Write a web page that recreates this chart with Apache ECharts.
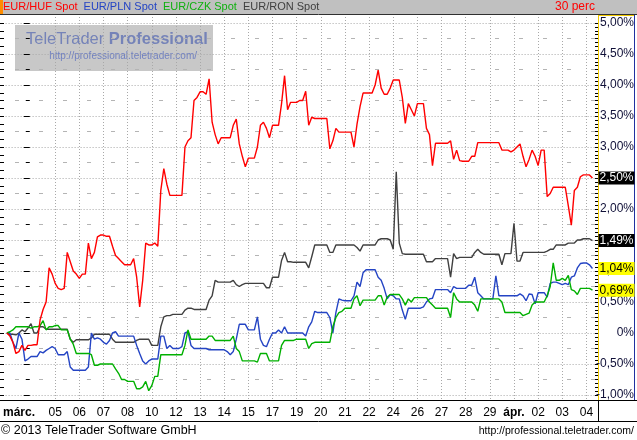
<!DOCTYPE html>
<html><head><meta charset="utf-8">
<script src="https://cdn.jsdelivr.net/npm/echarts@6/dist/echarts.min.js"></script>
<style>html,body{margin:0;padding:0;background:#fff}#c{width:637px;height:440px}</style>
</head><body><div id="c"></div>
<script>
// ---- data -------------------------------------------------------------
// x-axis day labels (trading days)
const dayLabels = ['márc.','05','06','07','08','10','12','13','14','15','17','19','20','21','22','24','26','27','28','29','ápr.','02','03','04'];
// series in % change, sampled every 1/8 trading day, starting one day before 'márc.'
const START = -1, STEP = 0.125;
const hufVals = [
0,-0.05, -0.15,-0.33, -0.3,-0.2, -0.28,-0.2, -0.2,-0.19, -0.19,0.21, 0.38,0.5, 1.05,0.95, 0.8,0.72, 0.7,0.72,
1.3,1.15, 1.0,0.95, 0.88,0.95, 0.95,1.45, 1.2,1.3, 1.55,1.58, 1.58,1.56, 1.56,1.4, 1.25,1.2, 1.15,1.1,
1.1,1.1, 1.2,0.9, 0.42,0.85, 1.45,1.42, 1.42,1.45, 1.4,2.3, 2.65,2.4, 2.22,2.22, 2.22,2.22, 2.22,3.0,
3.1,3.15, 3.75,3.8, 3.89,3.89, 3.85,4.1, 3.4,3.2, 3.05,3.15, 3.15,3.15, 3.15,3.35, 3.45,3.05, 2.85,2.68,
2.82,2.82, 2.82,3.0, 3.35,3.4, 3.3,3.15, 3.35,3.35, 3.35,3.7, 4.15,3.6, 3.72,3.72, 3.72,3.75, 3.75,3.9,
3.35,3.48, 3.46,3.46, 3.46,3.46, 3.46,2.97, 3.1,3.3, 3.24,3.24, 3.24,3.24, 3.24,3.0, 3.37,3.65, 3.87,3.87,
3.87,3.87, 4.0,4.24, 3.95,3.85, 3.85,3.95, 4.08,4.08, 4.08,3.8, 3.38,3.7, 3.6,3.5, 3.7,3.7, 3.7,3.3,
3.2,2.7, 3.06,3.06, 3.06,3.06, 3.06,3.1, 2.8,2.95, 2.78,2.77, 2.77,2.77, 2.85,2.85, 3.07,3.07, 3.07,3.07,
3.07,3.07, 3.07,3.07, 2.95,2.95, 2.95,2.92, 2.95,3.0, 3.05,2.85, 2.68,2.8, 2.95,2.85, 2.7,2.95, 2.95,2.2,
2.25,2.35, 2.35,2.35, 2.35,2.35, 2.05,1.74, 2.3,2.35, 2.52,2.55, 2.55,2.55, 2.50];
const plnVals = [
0,0, -0.15,-0.25, 0,-0.1, -0.45,-0.42, -0.38,-0.38, -0.38,-0.3, -0.32,-0.28, -0.25,-0.22, -0.25,-0.35, -0.35,-0.35,
-0.3,-0.55, -0.6,-0.6, -0.6,-0.6, -0.6,-0.55, 0,-0.1, -0.08,-0.1, -0.15,-0.18, -0.12,0, 0.02,-0.05, -0.05,-0.05,
-0.05,-0.05, -0.05,-0.2, -0.33,-0.45, -0.5,-0.45, -0.42,-0.42, -0.42,-0.05, -0.05,-0.25, -0.2,-0.25, -0.25,-0.25, -0.22,0,
0.02,-0.2, -0.25,-0.25, -0.25,-0.25, -0.25,-0.27, -0.27,-0.27, -0.27,-0.27, -0.27,-0.3, -0.35,-0.3, -0.1,0.14, 0.14,0.14,
0.05,0.05, 0.05,0.26, -0.1,-0.2, -0.22,-0.1, 0,0, 0.05,0, 0.1,0, 0,0, 0,0, 0,-0.05,
0.1,0.18, 0.35,0.33, 0.33,0.33, 0.33,0.25, 0,0.33, 0.55,0.53, 0.52,0.52, 0.52,0.6, 0.82,0.75, 0.97,1.02,
1.02,1.02, 1.02,0.9, 0.85,0.72, 0.55,0.62, 0.6,0.55, 0.55,0.37, 0.22,0.4, 0.4,0.4, 0.4,0.4, 0.42,0.5,
0.55,0.56, 0.7,0.7, 0.7,0.7, 0.7,0.65, 0.75,0.72, 0.72,0.72, 0.72,0.77, 0.77,0.9, 0.65,0.6, 0.55,0.55,
0.55,0.55, 0.92,0.6, 0.6,0.6, 0.6,0.6, 0.6,0.6, 0.63,0.6, 0.52,0.63, 0.62,0.47, 0.65,0.65, 0.65,0.58,
0.8,0.82, 0.82,0.8, 0.78,0.8, 0.78,0.9, 0.92,1.05, 1.12,1.13, 1.13,1.1, 1.04];
const czkVals = [
0,0.02, 0.05,0.1, 0.1,0.1, 0.1,0.1, 0.08,0.1, 0.1,0.12, 0.2,0.05, 0.1,0.1, 0.12,0.12, 0.05,0.05,
0.05,-0.1, -0.18,-0.33, -0.33,-0.33, -0.33,-0.33, -0.35,-0.52, -0.52,-0.5, -0.5,-0.5, -0.5,-0.5, -0.58,-0.65, -0.75,-0.75,
-0.78,-0.78, -0.78,-0.9, -0.9,-0.87, -0.78,-0.93, -0.85,-0.7, -0.7,-0.35, -0.35,-0.35, -0.35,-0.35, -0.35,-0.35, -0.35,-0.2,
0.05,-0.1, -0.1,-0.1, -0.1,-0.1, -0.1,-0.05, -0.05,-0.12, -0.12,-0.12, -0.12,-0.12, -0.12,-0.05, -0.25,-0.3, -0.45,-0.45,
-0.45,-0.45, -0.45,-0.47, -0.33,-0.33, -0.33,-0.45, -0.45,-0.45, -0.45,-0.2, -0.12,-0.12, -0.12,-0.12, -0.1,-0.1, -0.1,-0.1,
-0.25,-0.17, -0.15,-0.15, -0.15,-0.15, -0.15,-0.15, 0.1,0.25, 0.33,0.35, 0.4,0.4, 0.4,0.55, 0.6,0.44, 0.53,0.53,
0.53,0.53, 0.53,0.6, 0.6,0.45, 0.58,0.62, 0.62,0.62, 0.62,0.55, 0.45,0.55, 0.5,0.57, 0.57,0.57, 0.57,0.57,
0.5,0.45, 0.4,0.4, 0.4,0.4, 0.4,0.25, 0.65,0.55, 0.5,0.5, 0.5,0.5, 0.5,0.45, 0.35,0.55, 0.55,0.55,
0.55,0.55, 0.55,0.55, 0.5,0.33, 0.33,0.33, 0.33,0.33, 0.33,0.28, 0.3,0.32, 0.45,0.5, 0.5,0.5, 0.5,0.6,
0.75,1.13, 0.85,0.85, 0.88,0.85, 0.93,0.7, 0.68,0.62, 0.72,0.72, 0.72,0.72, 0.69];
const ronVals = [
0,-0.02, -0.02,-0.03, 0,0.05, 0.02,0.08, 0.15,0, 0,0.1, 0.1,0.06, 0.06,0.06, 0.06,0.06, 0.06,0.06,
0.06,-0.1, -0.15,-0.11, -0.11,-0.11, -0.11,-0.11, -0.08,-0.02, -0.02,-0.02, -0.02,-0.02, -0.02,-0.1, -0.15,-0.15, -0.15,-0.15,
-0.15,-0.15, -0.15,-0.12, -0.1,-0.1, -0.1,-0.1, -0.2,-0.2, -0.2,0.1, 0.26,0.28, 0.28,0.3, 0.3,0.3, 0.3,0.37,
0.4,0.4, 0.38,0.38, 0.38,0.38, 0.38,0.53, 0.6,0.85, 0.82,0.82, 0.82,0.82, 0.82,0.85, 0.78,0.75, 0.78,0.8,
0.8,0.8, 0.8,0.8, 0.8,0.8, 0.73,0.73, 0.9,0.9, 0.9,1.17, 1.3,1.15, 1.15,1.14, 1.14,1.14, 1.14,1.14,
1.05,1.23, 1.42,1.42, 1.42,1.42, 1.42,1.3, 1.3,1.42, 1.42,1.42, 1.42,1.42, 1.42,1.42, 1.38,1.32, 1.42,1.42,
1.42,1.42, 1.42,1.5, 1.52,1.52, 1.52,1.5, 1.35,2.6, 1.45,1.28, 1.27,1.27, 1.27,1.27, 1.27,1.27, 1.27,1.15,
1.15,1.15, 1.2,1.2, 1.2,1.2, 1.2,0.9, 1.28,1.2, 1.22,1.22, 1.22,1.22, 1.22,1.3, 1.35,1.3, 1.27,1.27,
1.27,1.27, 1.27,1.27, 1.1,1.28, 1.28,1.28, 1.77,1.16, 1.16,1.3, 1.3,1.3, 1.3,1.3, 1.3,1.3, 1.3,1.32,
1.35,1.35, 1.42,1.42, 1.42,1.42, 1.45,1.45, 1.45,1.5, 1.5,1.52, 1.52,1.52, 1.49];
const seriesNames = ['EUR/HUF Spot','EUR/PLN Spot','EUR/CZK Spot','EUR/RON Spot'];

// ---- chart ------------------------------------------------------------
const FONT = '"Liberation Sans", Arial, sans-serif';
const pct = v => (Math.abs(v) < 1e-9 ? '0' : v.toFixed(2).replace('.', ',')) + '%';
const toPts = vals => vals.map((v, i) => [START + i * STEP, v]);
function lastMark(vals, bg, fg) {
  const i = vals.length - 1;
  return {
    silent: true, symbol: 'rect', symbolSize: 0, animation: false,
    data: [{ coord: [START + i * STEP, vals[i]], value: vals[i] }],
    label: { show: true, position: 'right', distance: 6, formatter: pct(vals[i]),
      backgroundColor: bg, color: fg, fontSize: 12, fontFamily: FONT, padding: [1, 1, 0, 1] }
  };
}
const splitColors = ['rgba(0,0,0,0)', 'rgba(0,0,0,0)'].concat(Array(23).fill('#a8a8a8'));
const chart = echarts.init(document.getElementById('c'), null, { renderer: 'canvas' });
const colors = { huf: '#ff0000', pln: '#2444c4', czk: '#00b000', ron: '#404040' };
const LW = 1.4;
chart.setOption({
  animation: false,
  backgroundColor: '#fff',
  textStyle: { fontFamily: FONT },
  legend: {
    left: -2, top: 1, padding: 0, itemWidth: 0, itemHeight: 0, itemGap: 1, icon: 'none',
    selectedMode: false,
    textStyle: { fontSize: 11, fontFamily: FONT },
    data: [
      { name: seriesNames[0], textStyle: { color: colors.huf } },
      { name: seriesNames[1], textStyle: { color: colors.pln } },
      { name: seriesNames[2], textStyle: { color: '#10b010' } },
      { name: seriesNames[3], textStyle: { color: colors.ron } }
    ]
  },
  grid: [
    { left: 5.6, right: 38.5, top: 17, bottom: 40 },
    { left: 5.6, right: 38.5, top: 23, height: 372 }
  ],
  xAxis: [
    { gridIndex: 0, type: 'value', min: -1, max: 23.5, interval: 1,
      axisLine: { show: true, onZero: false, lineStyle: { color: '#000', width: 1 } },
      axisTick: { show: false },
      splitLine: { show: true, lineStyle: { color: splitColors, type: [1, 2], width: 1 } },
      axisLabel: { show: true, margin: 7, fontSize: 12, color: '#000', fontFamily: FONT,
        formatter: v => {
          const s = dayLabels[Math.round(v)];
          if (s === undefined || v < 0) return '';
          if (s === 'márc.') return '{m|' + s + '}';
          if (s === 'ápr.') return '{b|' + s + '}';
          return s;
        },
        rich: { m: { fontWeight: 'bold', fontSize: 12, padding: [0, 24, 0, 0] }, b: { fontWeight: 'bold', fontSize: 12 } } }
    },
    { gridIndex: 1, type: 'value', min: -1, max: 23.5, show: false }
  ],
  yAxis: [
    { gridIndex: 0, type: 'value', min: -1 - 5 / 62, max: 5 + 6 / 62, show: false, splitLine: { show: false } },
    { gridIndex: 1, type: 'value', position: 'right', min: -1, max: 5, interval: 0.5,
      axisLine: { show: false },
      axisTick: { show: true, inside: true, length: 6, lineStyle: { color: '#000' } },
      minorTick: { show: true, splitNumber: 2, length: 4, lineStyle: { color: '#000' } },
      splitLine: { show: true, lineStyle: { color: '#a8a8a8', type: [1, 2] } },
      minorSplitLine: { show: true, lineStyle: { color: '#b4b4b4', type: [4, 20], dashOffset: 14.6 } },
      axisLabel: { show: true, align: 'right', margin: 36, fontSize: 12, color: '#101038', fontFamily: FONT, formatter: pct }
    },
    { gridIndex: 1, type: 'value', position: 'right', min: -1, max: 5, interval: 0.0625,
      axisLine: { show: false }, axisLabel: { show: false }, splitLine: { show: false },
      axisTick: { show: true, inside: true, length: 3, lineStyle: { color: '#000' } } },
    { gridIndex: 1, type: 'value', position: 'left', offset: 5.6, min: -1, max: 5, interval: 0.125,
      axisLine: { show: false }, axisLabel: { show: false }, splitLine: { show: false },
      axisTick: { show: true, inside: true, length: 4, lineStyle: { color: '#000' } } }
  ],
  series: [
    { name: seriesNames[3], type: 'line', xAxisIndex: 0, yAxisIndex: 0, data: toPts(ronVals), showSymbol: false,
      lineStyle: { color: colors.ron, width: LW }, itemStyle: { color: colors.ron }, markPoint: lastMark(ronVals, '#000', '#fff') },
    { name: seriesNames[1], type: 'line', xAxisIndex: 0, yAxisIndex: 0, data: toPts(plnVals), showSymbol: false,
      lineStyle: { color: colors.pln, width: LW }, itemStyle: { color: colors.pln }, markPoint: lastMark(plnVals, '#ffff00', '#000') },
    { name: seriesNames[2], type: 'line', xAxisIndex: 0, yAxisIndex: 0, data: toPts(czkVals), showSymbol: false,
      lineStyle: { color: colors.czk, width: LW }, itemStyle: { color: colors.czk }, markPoint: lastMark(czkVals, '#ffff00', '#000') },
    { name: seriesNames[0], type: 'line', xAxisIndex: 0, yAxisIndex: 0, data: toPts(hufVals), showSymbol: false,
      lineStyle: { color: colors.huf, width: LW }, itemStyle: { color: colors.huf }, markPoint: lastMark(hufVals, '#000', '#fff') }
  ],
  graphic: [
    { type: 'rect', z: -5, silent: true, shape: { x: 0, y: 0, width: 637, height: 14 }, style: { fill: '#c0c0c0' } },
    { type: 'rect', z: -4, silent: true, shape: { x: 0, y: 0, width: 3, height: 14 }, style: { fill: '#ff8c00' } },
    { type: 'line', silent: true, shape: { x1: 0, y1: 14.5, x2: 637, y2: 14.5 }, style: { stroke: '#303030', lineWidth: 1 } },
    { type: 'text', silent: true, x: 595, y: 7, style: { text: '30 perc', fill: '#ff0000', font: '12px ' + FONT, textAlign: 'right', textVerticalAlign: 'middle' } },
    { type: 'rect', z: -1, silent: true, shape: { x: 15, y: 25, width: 198, height: 46 }, style: { fill: '#c8c8c8' } },
    { type: 'text', z: -1, silent: true, x: 26, y: 31, style: { text: '{a|TeleTrader }{b|Professional}', fill: '#7583b8',
        rich: { a: { font: '16.5px ' + FONT, fill: '#7583b8' }, b: { font: 'bold 16.5px ' + FONT, fill: '#7583b8' } } } },
    { type: 'text', z: -1, silent: true, x: 197, y: 56, style: { text: 'http://professional.teletrader.com/', fill: '#7080c0', font: '10px ' + FONT, textAlign: 'right', textVerticalAlign: 'middle' } },
    { type: 'line', silent: true, shape: { x1: 598.5, y1: 15, x2: 598.5, y2: 400 }, style: { stroke: '#f0c800', lineWidth: 1 } },
    { type: 'line', silent: true, shape: { x1: 598, y1: 15.5, x2: 634, y2: 15.5 }, style: { stroke: '#f0c800', lineWidth: 1 } },
    { type: 'line', silent: true, shape: { x1: 634.5, y1: 15, x2: 634.5, y2: 400 }, style: { stroke: '#2030a0', lineWidth: 1 } },
    { type: 'line', silent: true, shape: { x1: 0, y1: 400.5, x2: 637, y2: 400.5 }, style: { stroke: '#000', lineWidth: 1 } },
    { type: 'line', silent: true, shape: { x1: 0, y1: 421.5, x2: 637, y2: 421.5 }, style: { stroke: '#000', lineWidth: 1 } },
    { type: 'line', silent: true, shape: { x1: 598.5, y1: 400, x2: 598.5, y2: 421 }, style: { stroke: '#000', lineWidth: 1 } },
    { type: 'text', silent: true, x: 1, y: 431, style: { text: '© 2013 TeleTrader Software GmbH', fill: '#000', font: '12.5px ' + FONT, textVerticalAlign: 'middle' } },
    { type: 'text', silent: true, x: 634, y: 431, style: { text: 'http://professional.teletrader.com/', fill: '#000', font: '10.5px ' + FONT, textAlign: 'right', textVerticalAlign: 'middle' } }
  ]
});
</script></body></html>
